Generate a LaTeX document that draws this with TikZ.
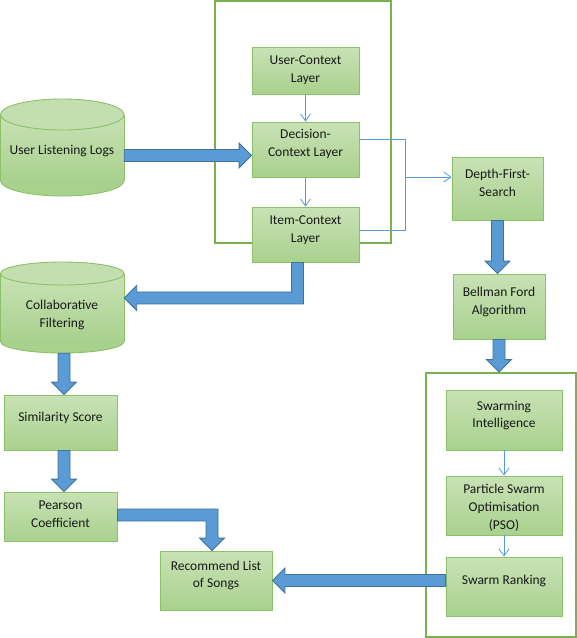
\documentclass[tikz,border=0pt]{standalone}
\usepackage{fontspec}
\setmainfont{Carlito}
\usetikzlibrary{calc,arrows.meta}
\definecolor{gborder}{HTML}{8CC168}
\definecolor{gcont}{HTML}{77B150}
\definecolor{gtop}{HTML}{C8E2B5}
\definecolor{gbot}{HTML}{A9D18E}
\definecolor{bfill}{HTML}{5B9BD5}
\definecolor{bline}{HTML}{41719C}
\definecolor{thinc}{HTML}{5B9BD5}
\newcommand\gbox[7]{\node[gbox, minimum width=#4pt, minimum height=#5pt, label={[lbl, yshift=#6pt]center:#7}] (#1) at (#2,#3) {};}
% straight block arrows: #1 start, #2 tip
\newcommand\barR[2]{\draw[barrow] ($(#1)+(0,-6)$) -- ($(#2)+(-12.5,-6)$) -- ($(#2)+(-12.5,-12.5)$) -- (#2) -- ($(#2)+(-12.5,12.5)$) -- ($(#2)+(-12.5,6)$) -- ($(#1)+(0,6)$) -- cycle;}
\newcommand\barL[2]{\draw[barrow] ($(#1)+(0,-6)$) -- ($(#2)+(12.5,-6)$) -- ($(#2)+(12.5,-12.5)$) -- (#2) -- ($(#2)+(12.5,12.5)$) -- ($(#2)+(12.5,6)$) -- ($(#1)+(0,6)$) -- cycle;}
\newcommand\barD[2]{\draw[barrow] ($(#1)+(-6,0)$) -- ($(#2)+(-6,-12.5)$) -- ($(#2)+(-12.5,-12.5)$) -- (#2) -- ($(#2)+(12.5,-12.5)$) -- ($(#2)+(6,-12.5)$) -- ($(#1)+(6,0)$) -- cycle;}
\begin{document}
\begin{tikzpicture}[x=1pt,y=-1pt,
  gbox/.style={draw=gborder, line width=0.9pt, top color=gtop, bottom color=gbot, inner sep=0pt},
  lbl/.style={align=center, inner sep=0pt, font=\fontsize{13.5}{17.8}\selectfont, text=black!90},
  cont/.style={draw=gcont, line width=1.8pt, inner sep=0pt},
  frame/.style={inner sep=0pt},
  barrow/.style={fill=bfill, draw=bline, line width=0.9pt, line join=miter},
  thinl/.style={draw=thinc, line width=0.8pt},
  thina/.style={thinl, -{Straight Barb[length=7pt,width=10pt]}}
]
\useasboundingbox (0,0) rectangle (577,638);

% containers
\node[cont, minimum width=176pt, minimum height=242pt] (ctx) at (303,122) {};
\node[cont, minimum width=150pt, minimum height=264pt] (swc) at (501,505) {};

% cylinders
\begin{scope}[draw=gborder, line width=0.9pt]
  \filldraw[fill=gbot] (62.25,180.5) ellipse [x radius=61.75, y radius=15.5];
  \shade[top color=gtop, bottom color=gbot] (0.5,114.5) rectangle (124,180.5);
  \draw (0.5,114.5) -- (0.5,180.5) (124,114.5) -- (124,180.5);
  \filldraw[fill=gtop!85!gbot] (62.25,114.5) ellipse [x radius=61.75, y radius=15.5];

  \filldraw[fill=gbot] (62.25,341.5) ellipse [x radius=61.75, y radius=11.5];
  \shade[top color=gtop, bottom color=gbot] (0.5,273.5) rectangle (124,341.5);
  \draw (0.5,273.5) -- (0.5,341.5) (124,273.5) -- (124,341.5);
  \filldraw[fill=gtop!85!gbot] (62.25,273.5) ellipse [x radius=61.75, y radius=11.5];
\end{scope}
\node[frame, minimum width=124pt, minimum height=97pt, label={[lbl, yshift=-3.5pt]center:User Listening Logs}] (ull) at (62,147.5) {};
\node[frame, minimum width=124pt, minimum height=91pt, label={[lbl, yshift=-7.5pt]center:Collaborative\\Filtering}] (cf) at (62,307.5) {};

% boxes
\gbox{uc}{305.5}{70.5}{107}{47}{0}{User-Context\\Layer}
\gbox{dc}{305.5}{149.5}{107}{55}{5.5}{Decision-\\Context Layer}
\gbox{ic}{305.5}{234.5}{107}{55}{4.5}{Item-Context\\Layer}
\gbox{dfs}{497.5}{188.5}{91}{63}{5.5}{Depth-First-\\Search}
\gbox{bf}{499}{306.5}{92}{65}{4.5}{Bellman Ford\\Algorithm}
\gbox{si}{504}{420}{116}{60}{4.5}{Swarming\\Intelligence}
\gbox{pso}{504}{505.5}{116}{59}{-2}{Particle Swarm\\Optimisation\\(PSO)}
\gbox{sr}{504}{586.5}{116}{59}{5.5}{Swarm Ranking}
\gbox{sim}{60.5}{422.5}{113}{55}{5}{Similarity Score}
\gbox{pear}{60.5}{516.5}{113}{49}{2}{Pearson\\Coefficient}
\gbox{rec}{216}{580.5}{112}{59}{5}{Recommend List\\of Songs}

% thin connectors
\draw[thina] (uc.south) -- (dc.north);
\draw[thina] (dc.south) -- (ic.north);
\draw[thina] (si.south) -- (pso.north);
\draw[thina] (pso.south) -- (sr.north);
\coordinate (j) at (405,177);
\coordinate (t1) at ($(dc.east)+(0,-10.5)$);
\coordinate (t2) at ($(ic.east)+(0,-4.5)$);
\draw[thinl] (t1) -| (j);
\draw[thinl] (t2) -| (j);
\draw[thina] (j) -- (dfs.west |- j);

% block arrows
\coordinate (a1) at ($(ull.east)+(0,8)$);
\coordinate (b1) at (dc.west |- a1);
\barR{a1}{b1}

\coordinate (a2) at ($(ic.south)+(-8,0)$);
\coordinate (k2) at ($(a2)+(0,35.5)$);
\coordinate (b2) at (cf.east |- k2);
\draw[barrow] ($(a2)+(-6,0)$) -- ($(k2)+(-6,-6)$) -- ($(b2)+(12.5,-6)$) -- ($(b2)+(12.5,-12.5)$) -- (b2) -- ($(b2)+(12.5,12.5)$) -- ($(b2)+(12.5,6)$) -- ($(k2)+(6,6)$) -- ($(a2)+(6,0)$) -- cycle;

\coordinate (a3) at ($(cf.south)+(2,0)$);
\coordinate (b3) at (a3 |- sim.north);
\barD{a3}{b3}

\coordinate (a4) at ($(sim.south)+(3.5,0)$);
\coordinate (b4) at (a4 |- pear.north);
\barD{a4}{b4}

\coordinate (a5) at ($(pear.east)+(0,-1.5)$);
\coordinate (b5) at ($(rec.north)+(-4,0)$);
\coordinate (k5) at (b5 |- a5);
\draw[barrow] ($(a5)+(0,-6)$) -- ($(k5)+(6,-6)$) -- ($(b5)+(6,-12.5)$) -- ($(b5)+(12.5,-12.5)$) -- (b5) -- ($(b5)+(-12.5,-12.5)$) -- ($(b5)+(-6,-12.5)$) -- ($(k5)+(-6,6)$) -- ($(a5)+(0,6)$) -- cycle;

\coordinate (a6) at (dfs.south);
\coordinate (b6) at (a6 |- bf.north);
\barD{a6}{b6}

\coordinate (a7) at (bf.south);
\coordinate (b7) at (a7 |- swc.north);
\barD{a7}{b7}

\coordinate (a8) at (sr.west |- rec.east);
\coordinate (b8) at (rec.east);
\barL{a8}{b8}
\end{tikzpicture}
\end{document}
